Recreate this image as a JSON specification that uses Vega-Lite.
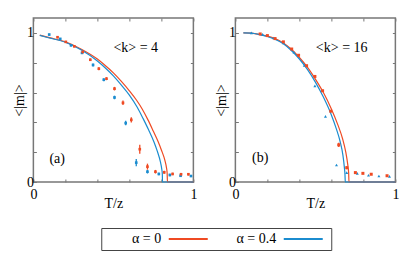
{
  "$schema": "https://vega.github.io/schema/vega-lite/v6.json",
  "padding": {"left": 11, "top": 16, "right": 5, "bottom": 5},
  "background": "white",
  "config": {
    "view": {"stroke": "#777", "strokeWidth": 1.5},
    "font": "Liberation Serif",
    "axis": {"grid": false, "domain": false, "tickColor": "#777", "tickSize": -3, "tickWidth": 1, "labelFont": "Liberation Serif", "labelFontSize": 14, "labelColor": "#000", "titleFont": "Liberation Serif", "titleFontSize": 14, "titleFontWeight": "normal", "titleColor": "#000", "labelPadding": 3}
  },
  "datasets": {
    "curves": [
      {"panel": "a", "alpha": "0", "x": 0.04, "y": 0.985}, {"panel": "a", "alpha": "0", "x": 0.1, "y": 0.968}, {"panel": "a", "alpha": "0", "x": 0.2, "y": 0.94}, {"panel": "a", "alpha": "0", "x": 0.3, "y": 0.891}, {"panel": "a", "alpha": "0", "x": 0.4, "y": 0.825}, {"panel": "a", "alpha": "0", "x": 0.44, "y": 0.79}, {"panel": "a", "alpha": "0", "x": 0.5, "y": 0.732}, {"panel": "a", "alpha": "0", "x": 0.55, "y": 0.675}, {"panel": "a", "alpha": "0", "x": 0.6, "y": 0.612}, {"panel": "a", "alpha": "0", "x": 0.644, "y": 0.55}, {"panel": "a", "alpha": "0", "x": 0.68, "y": 0.49}, {"panel": "a", "alpha": "0", "x": 0.717, "y": 0.415}, {"panel": "a", "alpha": "0", "x": 0.75, "y": 0.34}, {"panel": "a", "alpha": "0", "x": 0.78, "y": 0.27}, {"panel": "a", "alpha": "0", "x": 0.8, "y": 0.215}, {"panel": "a", "alpha": "0", "x": 0.822, "y": 0.145}, {"panel": "a", "alpha": "0", "x": 0.832, "y": 0.095}, {"panel": "a", "alpha": "0", "x": 0.836, "y": 0.06}, {"panel": "a", "alpha": "0", "x": 0.838, "y": 0}, {"panel": "a", "alpha": "0", "x": 1, "y": 0},
      {"panel": "a", "alpha": "0.4", "x": 0.04, "y": 0.983}, {"panel": "a", "alpha": "0.4", "x": 0.1, "y": 0.966}, {"panel": "a", "alpha": "0.4", "x": 0.2, "y": 0.937}, {"panel": "a", "alpha": "0.4", "x": 0.3, "y": 0.885}, {"panel": "a", "alpha": "0.4", "x": 0.4, "y": 0.812}, {"panel": "a", "alpha": "0.4", "x": 0.45, "y": 0.765}, {"panel": "a", "alpha": "0.4", "x": 0.5, "y": 0.712}, {"panel": "a", "alpha": "0.4", "x": 0.55, "y": 0.65}, {"panel": "a", "alpha": "0.4", "x": 0.6, "y": 0.583}, {"panel": "a", "alpha": "0.4", "x": 0.65, "y": 0.5}, {"panel": "a", "alpha": "0.4", "x": 0.686, "y": 0.425}, {"panel": "a", "alpha": "0.4", "x": 0.72, "y": 0.35}, {"panel": "a", "alpha": "0.4", "x": 0.755, "y": 0.265}, {"panel": "a", "alpha": "0.4", "x": 0.775, "y": 0.205}, {"panel": "a", "alpha": "0.4", "x": 0.794, "y": 0.135}, {"panel": "a", "alpha": "0.4", "x": 0.802, "y": 0.09}, {"panel": "a", "alpha": "0.4", "x": 0.806, "y": 0.05}, {"panel": "a", "alpha": "0.4", "x": 0.807, "y": 0}, {"panel": "a", "alpha": "0.4", "x": 1, "y": 0},
      {"panel": "b", "alpha": "0", "x": 0.05, "y": 1.0}, {"panel": "b", "alpha": "0", "x": 0.1, "y": 0.998}, {"panel": "b", "alpha": "0", "x": 0.15, "y": 0.99}, {"panel": "b", "alpha": "0", "x": 0.2, "y": 0.978}, {"panel": "b", "alpha": "0", "x": 0.25, "y": 0.96}, {"panel": "b", "alpha": "0", "x": 0.3, "y": 0.933}, {"panel": "b", "alpha": "0", "x": 0.35, "y": 0.89}, {"panel": "b", "alpha": "0", "x": 0.4, "y": 0.835}, {"panel": "b", "alpha": "0", "x": 0.45, "y": 0.77}, {"panel": "b", "alpha": "0", "x": 0.5, "y": 0.69}, {"panel": "b", "alpha": "0", "x": 0.55, "y": 0.6}, {"panel": "b", "alpha": "0", "x": 0.6, "y": 0.49}, {"panel": "b", "alpha": "0", "x": 0.64, "y": 0.385}, {"panel": "b", "alpha": "0", "x": 0.67, "y": 0.29}, {"panel": "b", "alpha": "0", "x": 0.69, "y": 0.2}, {"panel": "b", "alpha": "0", "x": 0.702, "y": 0.12}, {"panel": "b", "alpha": "0", "x": 0.708, "y": 0.06}, {"panel": "b", "alpha": "0", "x": 0.71, "y": 0}, {"panel": "b", "alpha": "0", "x": 1, "y": 0},
      {"panel": "b", "alpha": "0.4", "x": 0.05, "y": 1.0}, {"panel": "b", "alpha": "0.4", "x": 0.1, "y": 0.998}, {"panel": "b", "alpha": "0.4", "x": 0.15, "y": 0.989}, {"panel": "b", "alpha": "0.4", "x": 0.2, "y": 0.976}, {"panel": "b", "alpha": "0.4", "x": 0.25, "y": 0.956}, {"panel": "b", "alpha": "0.4", "x": 0.3, "y": 0.928}, {"panel": "b", "alpha": "0.4", "x": 0.35, "y": 0.882}, {"panel": "b", "alpha": "0.4", "x": 0.4, "y": 0.825}, {"panel": "b", "alpha": "0.4", "x": 0.45, "y": 0.755}, {"panel": "b", "alpha": "0.4", "x": 0.5, "y": 0.67}, {"panel": "b", "alpha": "0.4", "x": 0.55, "y": 0.57}, {"panel": "b", "alpha": "0.4", "x": 0.6, "y": 0.45}, {"panel": "b", "alpha": "0.4", "x": 0.63, "y": 0.36}, {"panel": "b", "alpha": "0.4", "x": 0.655, "y": 0.27}, {"panel": "b", "alpha": "0.4", "x": 0.672, "y": 0.18}, {"panel": "b", "alpha": "0.4", "x": 0.681, "y": 0.1}, {"panel": "b", "alpha": "0.4", "x": 0.685, "y": 0.05}, {"panel": "b", "alpha": "0.4", "x": 0.687, "y": 0}, {"panel": "b", "alpha": "0.4", "x": 1, "y": 0}
    ],
    "points": [
      {"panel": "a", "alpha": "0.4", "x": 0.099, "y": 0.989, "lo": 0.983, "hi": 0.995}, {"panel": "a", "alpha": "0.4", "x": 0.168, "y": 0.96, "lo": 0.954, "hi": 0.966}, {"panel": "a", "alpha": "0.4", "x": 0.235, "y": 0.917, "lo": 0.909, "hi": 0.925}, {"panel": "a", "alpha": "0.4", "x": 0.304, "y": 0.866, "lo": 0.858, "hi": 0.874}, {"panel": "a", "alpha": "0.4", "x": 0.373, "y": 0.785, "lo": 0.775, "hi": 0.795}, {"panel": "a", "alpha": "0.4", "x": 0.44, "y": 0.686, "lo": 0.676, "hi": 0.696}, {"panel": "a", "alpha": "0.4", "x": 0.507, "y": 0.567, "lo": 0.555, "hi": 0.579}, {"panel": "a", "alpha": "0.4", "x": 0.577, "y": 0.395, "lo": 0.38, "hi": 0.41}, {"panel": "a", "alpha": "0.4", "x": 0.643, "y": 0.13, "lo": 0.105, "hi": 0.155}, {"panel": "a", "alpha": "0.4", "x": 0.713, "y": 0.069, "lo": 0.057, "hi": 0.081}, {"panel": "a", "alpha": "0.4", "x": 0.784, "y": 0.054, "lo": 0.046, "hi": 0.062}, {"panel": "a", "alpha": "0.4", "x": 0.853, "y": 0.047, "lo": 0.039, "hi": 0.055}, {"panel": "a", "alpha": "0.4", "x": 0.92, "y": 0.042, "lo": 0.036, "hi": 0.048}, {"panel": "a", "alpha": "0.4", "x": 0.985, "y": 0.04, "lo": 0.034, "hi": 0.046},
      {"panel": "a", "alpha": "0", "x": 0.151, "y": 0.971, "lo": 0.965, "hi": 0.977}, {"panel": "a", "alpha": "0", "x": 0.203, "y": 0.94, "lo": 0.934, "hi": 0.946}, {"panel": "a", "alpha": "0", "x": 0.256, "y": 0.91, "lo": 0.904, "hi": 0.916}, {"panel": "a", "alpha": "0", "x": 0.308, "y": 0.872, "lo": 0.864, "hi": 0.88}, {"panel": "a", "alpha": "0", "x": 0.356, "y": 0.82, "lo": 0.812, "hi": 0.828}, {"panel": "a", "alpha": "0", "x": 0.409, "y": 0.76, "lo": 0.75, "hi": 0.77}, {"panel": "a", "alpha": "0", "x": 0.457, "y": 0.693, "lo": 0.683, "hi": 0.703}, {"panel": "a", "alpha": "0", "x": 0.507, "y": 0.626, "lo": 0.614, "hi": 0.638}, {"panel": "a", "alpha": "0", "x": 0.56, "y": 0.531, "lo": 0.516, "hi": 0.546}, {"panel": "a", "alpha": "0", "x": 0.612, "y": 0.417, "lo": 0.399, "hi": 0.435}, {"panel": "a", "alpha": "0", "x": 0.665, "y": 0.22, "lo": 0.19, "hi": 0.25}, {"panel": "a", "alpha": "0", "x": 0.713, "y": 0.103, "lo": 0.083, "hi": 0.123}, {"panel": "a", "alpha": "0", "x": 0.763, "y": 0.069, "lo": 0.057, "hi": 0.081}, {"panel": "a", "alpha": "0", "x": 0.818, "y": 0.065, "lo": 0.055, "hi": 0.075}, {"panel": "a", "alpha": "0", "x": 0.87, "y": 0.054, "lo": 0.046, "hi": 0.062}, {"panel": "a", "alpha": "0", "x": 0.923, "y": 0.052, "lo": 0.044, "hi": 0.06}, {"panel": "a", "alpha": "0", "x": 0.969, "y": 0.052, "lo": 0.044, "hi": 0.06},
      {"panel": "b", "alpha": "0.4", "x": 0.1, "y": 1.0, "lo": 1.0, "hi": 1.0}, {"panel": "b", "alpha": "0.4", "x": 0.17, "y": 0.991, "lo": 0.991, "hi": 0.991}, {"panel": "b", "alpha": "0.4", "x": 0.239, "y": 0.966, "lo": 0.966, "hi": 0.966}, {"panel": "b", "alpha": "0.4", "x": 0.3, "y": 0.932, "lo": 0.932, "hi": 0.932}, {"panel": "b", "alpha": "0.4", "x": 0.366, "y": 0.87, "lo": 0.87, "hi": 0.87}, {"panel": "b", "alpha": "0.4", "x": 0.431, "y": 0.782, "lo": 0.782, "hi": 0.782}, {"panel": "b", "alpha": "0.4", "x": 0.497, "y": 0.645, "lo": 0.645, "hi": 0.645}, {"panel": "b", "alpha": "0.4", "x": 0.563, "y": 0.44, "lo": 0.44, "hi": 0.44}, {"panel": "b", "alpha": "0.4", "x": 0.632, "y": 0.114, "lo": 0.114, "hi": 0.114}, {"panel": "b", "alpha": "0.4", "x": 0.696, "y": 0.063, "lo": 0.063, "hi": 0.063}, {"panel": "b", "alpha": "0.4", "x": 0.762, "y": 0.058, "lo": 0.058, "hi": 0.058}, {"panel": "b", "alpha": "0.4", "x": 0.832, "y": 0.045, "lo": 0.045, "hi": 0.045}, {"panel": "b", "alpha": "0.4", "x": 0.897, "y": 0.04, "lo": 0.04, "hi": 0.04}, {"panel": "b", "alpha": "0.4", "x": 0.963, "y": 0.038, "lo": 0.038, "hi": 0.038},
      {"panel": "b", "alpha": "0", "x": 0.155, "y": 0.993, "lo": 0.993, "hi": 0.993}, {"panel": "b", "alpha": "0", "x": 0.2, "y": 0.982, "lo": 0.982, "hi": 0.982}, {"panel": "b", "alpha": "0", "x": 0.248, "y": 0.962, "lo": 0.962, "hi": 0.962}, {"panel": "b", "alpha": "0", "x": 0.3, "y": 0.94, "lo": 0.94, "hi": 0.94}, {"panel": "b", "alpha": "0", "x": 0.352, "y": 0.892, "lo": 0.892, "hi": 0.892}, {"panel": "b", "alpha": "0", "x": 0.395, "y": 0.85, "lo": 0.85, "hi": 0.85}, {"panel": "b", "alpha": "0", "x": 0.445, "y": 0.78, "lo": 0.78, "hi": 0.78}, {"panel": "b", "alpha": "0", "x": 0.497, "y": 0.708, "lo": 0.708, "hi": 0.708}, {"panel": "b", "alpha": "0", "x": 0.545, "y": 0.612, "lo": 0.612, "hi": 0.612}, {"panel": "b", "alpha": "0", "x": 0.596, "y": 0.475, "lo": 0.475, "hi": 0.475}, {"panel": "b", "alpha": "0", "x": 0.646, "y": 0.249, "lo": 0.235, "hi": 0.263}, {"panel": "b", "alpha": "0", "x": 0.696, "y": 0.096, "lo": 0.086, "hi": 0.106}, {"panel": "b", "alpha": "0", "x": 0.75, "y": 0.063, "lo": 0.063, "hi": 0.063}, {"panel": "b", "alpha": "0", "x": 0.797, "y": 0.058, "lo": 0.058, "hi": 0.058}, {"panel": "b", "alpha": "0", "x": 0.849, "y": 0.052, "lo": 0.052, "hi": 0.052}, {"panel": "b", "alpha": "0", "x": 0.948, "y": 0.042, "lo": 0.042, "hi": 0.042}
    ],
    "notes": [
      {"panel": "a", "x": 0.5, "y": 0.9, "t": "<k> = 4"}, {"panel": "a", "x": 0.1, "y": 0.155, "t": "(a)"},
      {"panel": "b", "x": 0.503, "y": 0.9, "t": "<k> = 16"}, {"panel": "b", "x": 0.104, "y": 0.16, "t": "(b)"}
    ],
    "legend": [
      {"alpha": "0", "label": "α = 0"}, {"alpha": "0.4", "label": "α = 0.4"}
    ]
  },
  "vconcat": [
    {
      "hconcat": [
        {
          "width": 160, "height": 164,
          "layer": [
            {
              "data": {"name": "curves"},
              "transform": [{"filter": "datum.panel == 'a'"}],
              "mark": {"type": "line", "strokeWidth": 1.2, "interpolate": "monotone"},
              "encoding": {
                "x": {"field": "x", "type": "quantitative", "scale": {"domain": [0, 1], "nice": false}, "axis": {"orient": "bottom", "values": [0, 0.2, 0.4, 0.6, 0.8, 1], "labelExpr": "datum.value == 0 ? '0' : datum.value == 1 ? '1' : ''", "title": "T/z", "labelFlush": false, "labelPadding": 8, "titlePadding": -5}},
                "y": {"field": "y", "type": "quantitative", "scale": {"domain": [0, 1.1], "nice": false}, "axis": {"orient": "left", "values": [0, 0.2, 0.4, 0.6, 0.8, 1], "labelExpr": "datum.value == 0 ? '0' : datum.value == 1 ? '1' : ''", "title": "<|m|>", "titlePadding": 0}},
                "color": {"field": "alpha", "type": "nominal", "scale": {"domain": ["0", "0.4"], "range": ["#ef4a23", "#1b8ccf"]}, "legend": null},
                "order": {"field": "x", "type": "quantitative"}
              }
            },
            {
              "data": {"name": "points"},
              "transform": [{"filter": "datum.panel == 'a'"}],
              "mark": {"type": "rule", "strokeWidth": 1.3},
              "encoding": {
                "x": {"field": "x", "type": "quantitative", "axis": {"orient": "top", "values": [0, 0.2, 0.4, 0.6, 0.8, 1], "labels": false, "title": null}},
                "y": {"field": "lo", "type": "quantitative", "axis": {"orient": "right", "values": [0, 0.2, 0.4, 0.6, 0.8, 1], "labels": false, "title": null}},
                "y2": {"field": "hi"},
                "color": {"field": "alpha", "type": "nominal", "legend": null}
              }
            },
            {
              "data": {"name": "points"},
              "transform": [{"filter": "datum.panel == 'a'"}],
              "mark": {"type": "point", "filled": true, "shape": "square", "size": 7, "opacity": 1},
              "encoding": {
                "x": {"field": "x", "type": "quantitative", "axis": null},
                "y": {"field": "y", "type": "quantitative", "axis": null},
                "color": {"field": "alpha", "type": "nominal", "legend": null}
              }
            },
            {
              "data": {"name": "notes"},
              "transform": [{"filter": "datum.panel == 'a'"}],
              "mark": {"type": "text", "align": "left", "baseline": "middle", "fontSize": 14, "font": "Liberation Serif", "color": "#000"},
              "encoding": {
                "x": {"field": "x", "type": "quantitative", "axis": null},
                "y": {"field": "y", "type": "quantitative", "axis": null},
                "text": {"field": "t"}
              }
            }
          ],
          "resolve": {"axis": {"x": "independent", "y": "independent"}}
        },
        {
          "width": 160, "height": 164,
          "layer": [
            {
              "data": {"name": "curves"},
              "transform": [{"filter": "datum.panel == 'b'"}],
              "mark": {"type": "line", "strokeWidth": 1.2, "interpolate": "monotone"},
              "encoding": {
                "x": {"field": "x", "type": "quantitative", "scale": {"domain": [0, 1], "nice": false}, "axis": {"orient": "bottom", "values": [0, 0.2, 0.4, 0.6, 0.8, 1], "labelExpr": "datum.value == 0 ? '0' : datum.value == 1 ? '1' : ''", "title": "T/z", "labelFlush": false, "labelPadding": 8, "titlePadding": -5}},
                "y": {"field": "y", "type": "quantitative", "scale": {"domain": [0, 1.1], "nice": false}, "axis": {"orient": "left", "values": [0, 0.2, 0.4, 0.6, 0.8, 1], "labelExpr": "datum.value == 0 ? '0' : datum.value == 1 ? '1' : ''", "title": "<|m|>", "titlePadding": 0}},
                "color": {"field": "alpha", "type": "nominal", "legend": null},
                "order": {"field": "x", "type": "quantitative"}
              }
            },
            {
              "data": {"name": "points"},
              "transform": [{"filter": "datum.panel == 'b'"}],
              "mark": {"type": "rule", "strokeWidth": 1.3},
              "encoding": {
                "x": {"field": "x", "type": "quantitative", "axis": {"orient": "top", "values": [0, 0.2, 0.4, 0.6, 0.8, 1], "labels": false, "title": null}},
                "y": {"field": "lo", "type": "quantitative", "axis": {"orient": "right", "values": [0, 0.2, 0.4, 0.6, 0.8, 1], "labels": false, "title": null}},
                "y2": {"field": "hi"},
                "color": {"field": "alpha", "type": "nominal", "legend": null}
              }
            },
            {
              "data": {"name": "points"},
              "transform": [{"filter": "datum.panel == 'b'"}],
              "mark": {"type": "point", "filled": true, "size": 9, "opacity": 1},
              "encoding": {
                "x": {"field": "x", "type": "quantitative", "axis": null},
                "y": {"field": "y", "type": "quantitative", "axis": null},
                "color": {"field": "alpha", "type": "nominal", "legend": null},
                "shape": {"field": "alpha", "type": "nominal", "scale": {"domain": ["0", "0.4"], "range": ["square", "triangle-up"]}, "legend": null}
              }
            },
            {
              "data": {"name": "notes"},
              "transform": [{"filter": "datum.panel == 'b'"}],
              "mark": {"type": "text", "align": "left", "baseline": "middle", "fontSize": 14, "font": "Liberation Serif", "color": "#000"},
              "encoding": {
                "x": {"field": "x", "type": "quantitative", "axis": null},
                "y": {"field": "y", "type": "quantitative", "axis": null},
                "text": {"field": "t"}
              }
            }
          ],
          "resolve": {"axis": {"x": "independent", "y": "independent"}}
        }
      ],
      "spacing": 15
    },
    {
      "width": 230, "height": 22,
      "view": {"stroke": "#444", "strokeWidth": 1},
      "data": {"name": "legend"},
      "layer": [
        {
          "mark": {"type": "text", "align": "right", "baseline": "middle", "fontSize": 14, "dx": 2.5, "font": "Liberation Serif", "color": "#000"},
          "encoding": {
            "x": {"field": "alpha", "type": "nominal", "scale": {"type": "point", "padding": 0.5}, "axis": null},
            "text": {"field": "label"}
          }
        },
        {
          "mark": {"type": "point", "shape": "stroke", "size": 1521, "strokeWidth": 2, "filled": false, "opacity": 1, "xOffset": 29.5},
          "encoding": {
            "x": {"field": "alpha", "type": "nominal", "axis": null},
            "color": {"field": "alpha", "type": "nominal", "legend": null}
          }
        }
      ]
    }
  ],
  "spacing": 16,
  "center": true
}
